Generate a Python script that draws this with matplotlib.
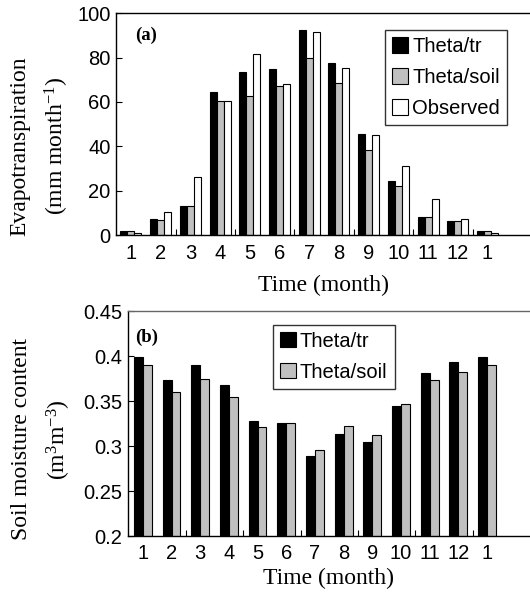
import matplotlib
matplotlib.use("Agg")
import matplotlib.pyplot as plt
import numpy as np

# Monthly values (January through December, then the following January)
months = ["1", "2", "3", "4", "5", "6", "7", "8", "9", "10", "11", "12", "1"]

et_theta_tr = [2.0, 7.2, 13.3, 64.4, 73.6, 75.0, 92.5, 77.5, 45.8, 24.5, 8.4, 6.3, 2.0]
et_theta_soil = [2.0, 6.9, 13.2, 60.5, 62.8, 67.0, 79.7, 68.6, 38.3, 22.2, 8.1, 6.3, 2.0]
et_observed = [1.2, 10.4, 26.3, 60.5, 81.4, 68.3, 91.3, 75.2, 45.2, 31.2, 16.2, 7.2, 1.2]

sm_theta_tr = [0.399, 0.373, 0.390, 0.368, 0.328, 0.326, 0.289, 0.3135, 0.305, 0.345, 0.3816, 0.3934, 0.399]
sm_theta_soil = [0.390, 0.3605, 0.3746, 0.3546, 0.3217, 0.326, 0.296, 0.3224, 0.3124, 0.347, 0.3734, 0.3823, 0.390]

sans = ["Liberation Sans", "DejaVu Sans"]
serif = ["Liberation Serif", "DejaVu Serif"]
plt.rcParams["font.family"] = sans
plt.rcParams["mathtext.fontset"] = "custom"
plt.rcParams["mathtext.rm"] = "Liberation Serif"
plt.rcParams["mathtext.it"] = "Liberation Serif:italic"

GRAY = "#c0c0c0"
TICK_FS = 14.5
LABEL_FS = 17

fig = plt.figure(figsize=(5.30, 5.97), dpi=100)
ax1 = fig.add_axes([0.219, 0.606, 0.781, 0.372])
ax2 = fig.add_axes([0.2415, 0.102, 0.7585, 0.377])

x = np.arange(len(months))


def style_axes(ax, top_color):
    ax.spines["right"].set_visible(False)
    ax.spines["top"].set_color(top_color)
    for s in ("left", "bottom", "top"):
        ax.spines[s].set_linewidth(1.0)
    ax.set_xticks(x)
    ax.set_xticklabels(months)
    ax.set_xticks(np.arange(1.5, len(months) - 1, 2.0), minor=True)
    ax.tick_params(axis="x", which="major", length=0, pad=6, labelsize=TICK_FS)
    ax.tick_params(axis="x", which="minor", direction="in", length=4, width=0.8)
    ax.tick_params(axis="y", which="major", direction="in", length=4, width=0.8,
                   labelsize=TICK_FS, pad=4)


def add_legend(ax, anchor):
    leg = ax.legend(loc="upper left", bbox_to_anchor=anchor, fontsize=TICK_FS,
                    frameon=True, fancybox=False, edgecolor="black",
                    handlelength=0.8, handleheight=0.8, handletextpad=0.2,
                    labelspacing=0.6, borderpad=0.35, borderaxespad=0)
    leg.get_frame().set_linewidth(1.0)
    return leg


# (a) evapotranspiration
w1 = 0.235
ax1.bar(x - w1, et_theta_tr, w1, color="black", edgecolor="black", linewidth=0.8, label="Theta/tr")
ax1.bar(x, et_theta_soil, w1, color=GRAY, edgecolor="black", linewidth=0.8, label="Theta/soil")
ax1.bar(x + w1, et_observed, w1, color="white", edgecolor="black", linewidth=0.8, label="Observed")
ax1.set_xlim(-0.5, 13.43)
ax1.set_ylim(0, 100)
ax1.set_yticks([0, 20, 40, 60, 80, 100])
style_axes(ax1, "black")
ax1.set_xlabel("Time (month)", family=serif, fontsize=LABEL_FS, labelpad=9)
ax1.set_ylabel("Evapotranspiration\n(mm month$^{-1}$)", family=serif, fontsize=LABEL_FS,
               linespacing=1.6)
ax1.yaxis.set_label_coords(-0.11, 0.40)
ax1.text(0.046, 0.94, "(a)", transform=ax1.transAxes, family=serif, fontsize=13.5,
         fontweight="bold", va="top", ha="left")
add_legend(ax1, (0.65, 0.925))

# (b) soil moisture
w2 = 0.31
ax2.bar(x - w2 / 2, sm_theta_tr, w2, color="black", edgecolor="black", linewidth=0.8, label="Theta/tr")
ax2.bar(x + w2 / 2, sm_theta_soil, w2, color=GRAY, edgecolor="black", linewidth=0.8, label="Theta/soil")
ax2.set_xlim(-0.52, 13.5)
ax2.set_ylim(0.2, 0.45)
ax2.set_yticks([0.2, 0.25, 0.3, 0.35, 0.4, 0.45])
ax2.set_yticklabels(["0.2", "0.25", "0.3", "0.35", "0.4", "0.45"])
style_axes(ax2, "#666666")
ax2.set_xlabel("Time (month)", family=serif, fontsize=LABEL_FS, labelpad=3)
ax2.set_ylabel("Soil moisture content\n(m$^{3}$m$^{-3}$)", family=serif, fontsize=LABEL_FS,
               linespacing=1.6)
ax2.yaxis.set_label_coords(-0.137, 0.43)
ax2.text(0.018, 0.92, "(b)", transform=ax2.transAxes, family=serif, fontsize=13.5,
         fontweight="bold", va="top", ha="left")
add_legend(ax2, (0.36, 0.94))

fig.savefig("out.png", dpi=100)
